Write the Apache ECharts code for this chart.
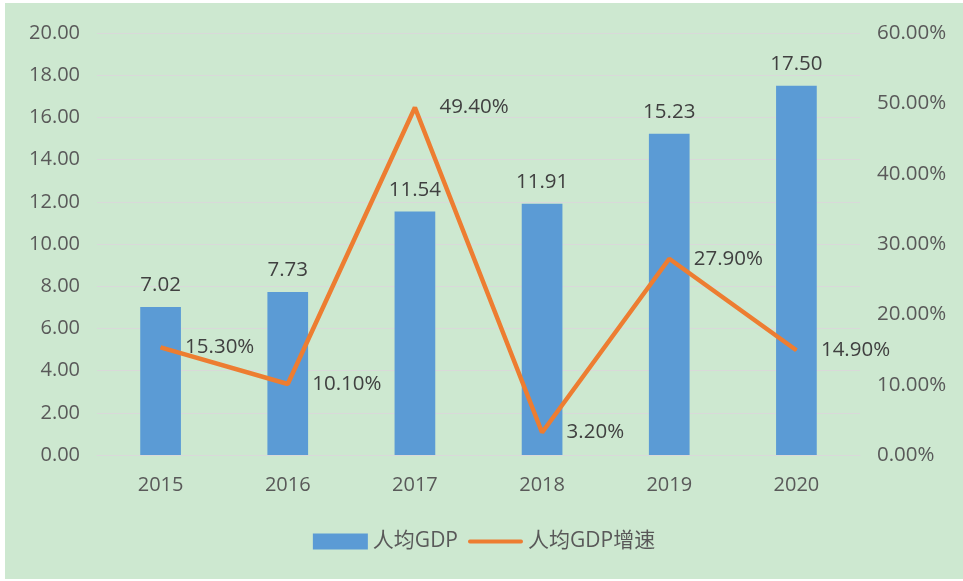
<!DOCTYPE html>
<html><head><meta charset="utf-8">
<script src="https://cdn.jsdelivr.net/npm/echarts@6/dist/echarts.min.js"></script>
<style>
html,body{margin:0;padding:0;background:#fff;width:963px;height:581px;overflow:hidden}
#c{position:absolute;left:5px;top:3px;width:958px;height:576px;background:#cde8d0}
</style></head><body><div id="c"></div>
<script>
const categories = ['2015','2016','2017','2018','2019','2020'];
const gdpPerCapita = [7.02, 7.73, 11.54, 11.91, 15.23, 17.50];
const gdpGrowth = [15.3, 10.1, 49.4, 3.2, 27.9, 14.9];
const leftTicks = {min:0, max:20, interval:2};
const rightTicks = {min:0, max:60, interval:10};

const font = '"Open Sans","Noto Sans CJK SC",sans-serif';
const chart = echarts.init(document.getElementById('c'), null, {renderer:'canvas'});
chart.setOption({
  backgroundColor:'#cde8d0',
  animation:false,
  textStyle:{fontFamily:font},
  grid:{left:92, right:103, top:30, bottom:124},
  legend:{
    bottom:22, left:'center', itemWidth:55, itemHeight:16, itemGap:10,
    textStyle:{fontSize:21, color:'#595959', fontFamily:font},
    data:[{name:'人均GDP', icon:'rect'}, {name:'人均GDP增速', icon:'path://M2,0 L56,0 A2,2 0 0 1 56,4 L2,4 A2,2 0 0 1 2,0 Z'}]
  },
  xAxis:{
    type:'category', data:categories,
    axisLine:{show:true, lineStyle:{color:'#d9d9d9', width:1}},
    axisTick:{show:false},
    axisLabel:{fontSize:20, color:'#595959', margin:20, fontFamily:font}
  },
  yAxis:[{
    type:'value', min:leftTicks.min, max:leftTicks.max, interval:leftTicks.interval,
    axisLine:{show:false}, axisTick:{show:false},
    splitLine:{lineStyle:{color:'#d9d9d9', width:1}},
    axisLabel:{fontSize:20, color:'#595959', margin:17, fontFamily:font, formatter:v=>v.toFixed(2)}
  },{
    type:'value', min:rightTicks.min, max:rightTicks.max, interval:rightTicks.interval,
    axisLine:{show:false}, axisTick:{show:false}, splitLine:{show:false},
    axisLabel:{fontSize:20.5, color:'#595959', margin:17, fontFamily:font, formatter:v=>v.toFixed(2)+'%'}
  }],
  series:[{
    name:'人均GDP', type:'bar', data:gdpPerCapita, barWidth:'32%',
    itemStyle:{color:'#5b9bd5'},
    label:{show:true, position:'top', distance:11, fontSize:20.5, color:'#404040', fontFamily:font, formatter:p=>p.value.toFixed(2)}
  },{
    name:'人均GDP增速', type:'line', yAxisIndex:1, data:gdpGrowth,
    symbol:'circle', symbolSize:1, showSymbol:true,
    lineStyle:{color:'#ed7d31', width:4.5}, itemStyle:{color:'#ed7d31'},
    label:{show:true, position:'right', distance:24, fontSize:20.5, color:'#404040', fontFamily:font, formatter:p=>p.value.toFixed(2)+'%'}
  }]
});
</script></body></html>
